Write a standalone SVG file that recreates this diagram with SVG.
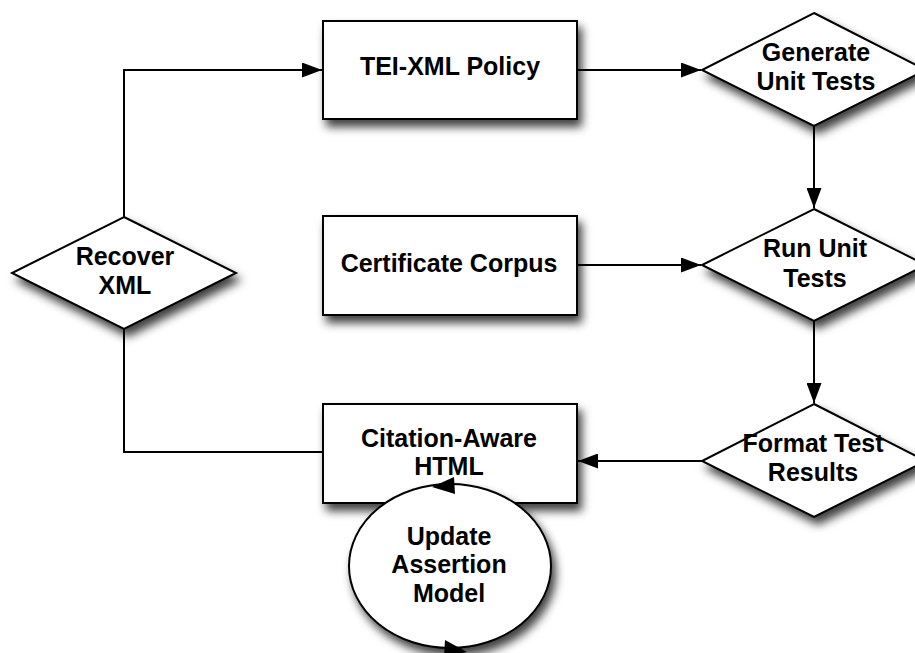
<svg xmlns="http://www.w3.org/2000/svg" width="915" height="653" viewBox="0 0 915 653">
<style>
.shape{fill:#fff;stroke:#000;stroke-width:2;filter:url(#sh)}
.t{font-family:"Liberation Sans",Arial,Helvetica,sans-serif;font-weight:bold;font-size:25px;fill:#000;text-anchor:middle}
.c{fill:none;stroke:#000;stroke-width:2}
</style>
<defs>
<filter id="sh" x="-20%" y="-20%" width="150%" height="160%">
<feDropShadow dx="4" dy="7" stdDeviation="5" flood-color="#000" flood-opacity="0.75"/>
</filter>
<marker id="ah" viewBox="0 0 20 15" refX="20" refY="7.5" markerWidth="20" markerHeight="15" markerUnits="userSpaceOnUse" orient="auto">
<path d="M0,0 L20,7.5 L0,15 Z" fill="#000"/>
</marker>
</defs>
<rect width="915" height="653" fill="#fff"/>
<g id="connectors">
<path class="c" d="M124,217 V70 H322" marker-end="url(#ah)"/>
<path class="c" d="M577,70 H701" marker-end="url(#ah)"/>
<path class="c" d="M814,126 V208" marker-end="url(#ah)"/>
<path class="c" d="M577,265 H701" marker-end="url(#ah)"/>
<path class="c" d="M814,321 V403" marker-end="url(#ah)"/>
<path class="c" d="M702,461 H578" marker-end="url(#ah)"/>
<path class="c" d="M323,452 H124 V329"/>
</g>
<g id="tei">
<rect class="shape" x="323" y="21" width="254" height="98"/>
<text class="t" x="450" y="75">TEI-XML Policy</text>
</g>
<g id="generate">
<polygon class="shape" points="814,13 926,70 814,126 702,70"/>
<text class="t" x="816" y="61">Generate</text>
<text class="t" x="816" y="90">Unit Tests</text>
</g>
<g id="recover">
<polygon class="shape" points="124,217 236,273 124,329 12,273"/>
<text class="t" x="125" y="265">Recover</text>
<text class="t" x="125" y="294">XML</text>
</g>
<g id="certificate">
<rect class="shape" x="323" y="216" width="254" height="99"/>
<text class="t" x="449" y="272">Certificate Corpus</text>
</g>
<g id="run">
<polygon class="shape" points="814,209 926,265 814,321 702,265"/>
<text class="t" x="815" y="257">Run Unit</text>
<text class="t" x="815" y="287">Tests</text>
</g>
<g id="format">
<polygon class="shape" points="814,404 926,461 814,517 702,461"/>
<text class="t" x="813" y="452">Format Test</text>
<text class="t" x="813" y="481">Results</text>
</g>
<g id="citation">
<rect class="shape" x="323" y="404" width="254" height="99"/>
<text class="t" x="449" y="447">Citation-Aware</text>
<text class="t" x="449" y="475">HTML</text>
</g>
<g id="update">
<ellipse class="shape" cx="450" cy="566" rx="101" ry="82"/>
<text class="t" x="449" y="545">Update</text>
<text class="t" x="449" y="573">Assertion</text>
<text class="t" x="449" y="602">Model</text>
<polygon points="432,487 454,477 455,494" fill="#000"/>
<polygon points="467,652 445,640 444,657" fill="#000"/>
</g>
</svg>
